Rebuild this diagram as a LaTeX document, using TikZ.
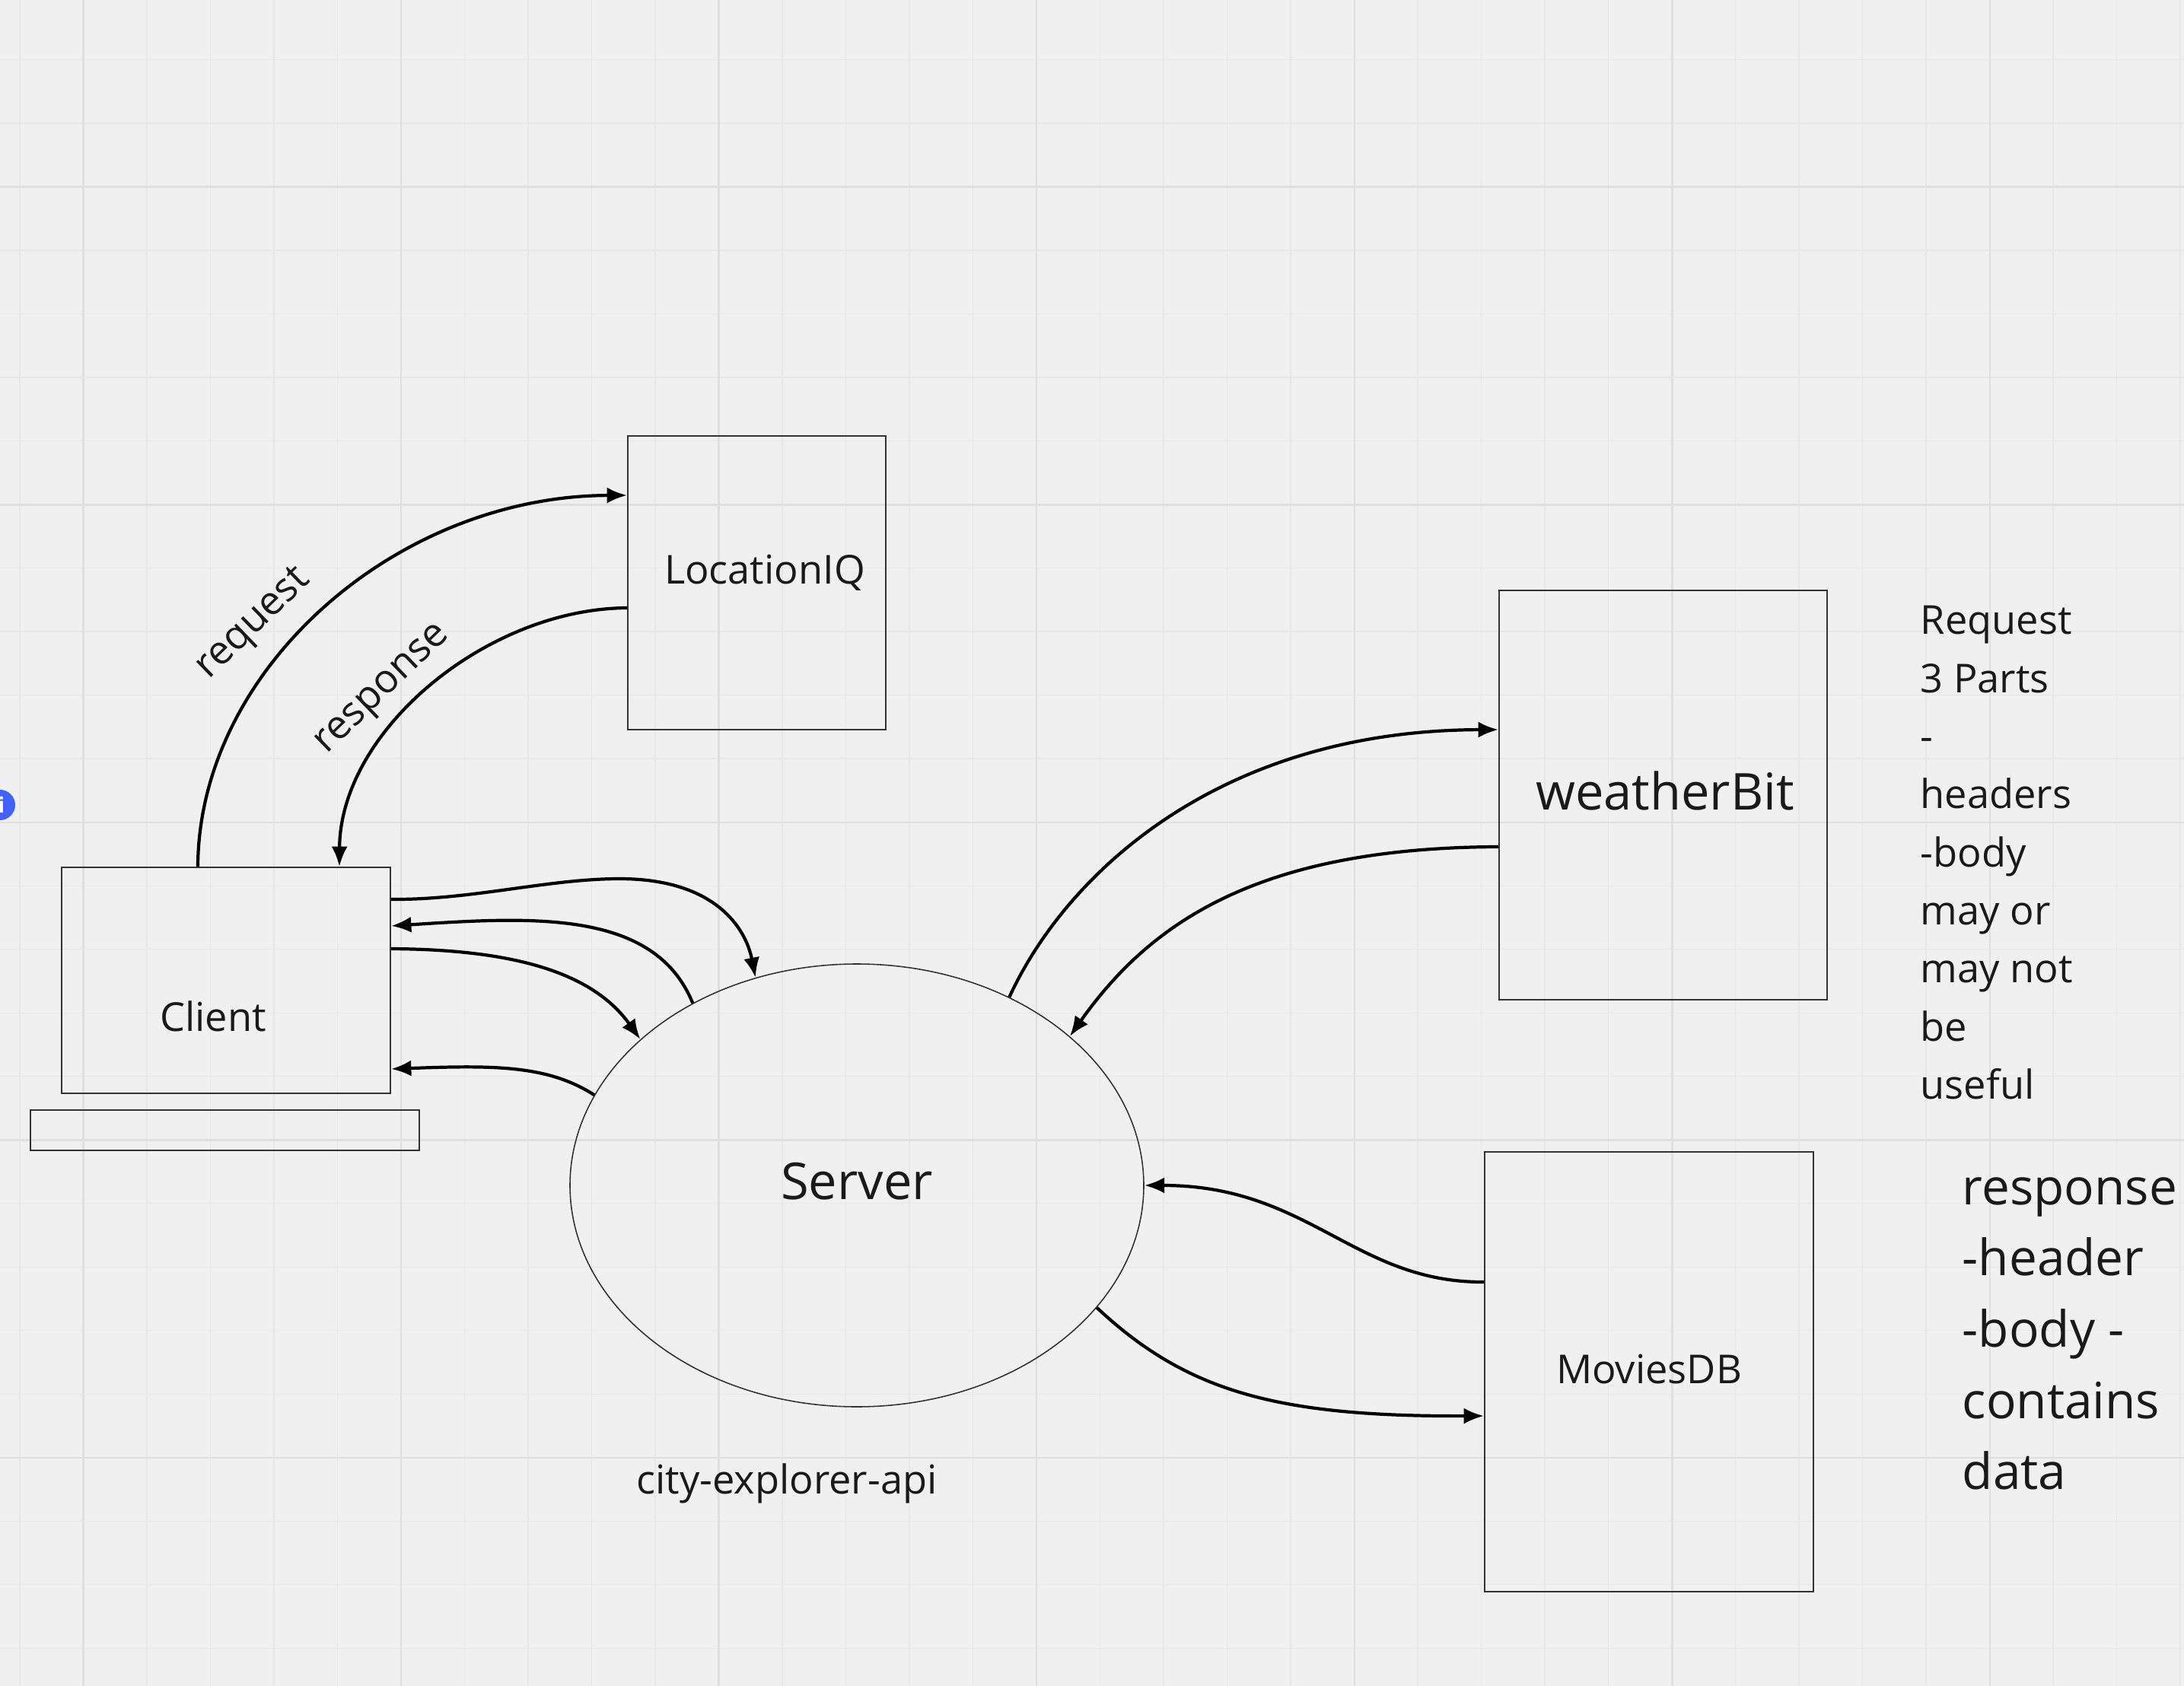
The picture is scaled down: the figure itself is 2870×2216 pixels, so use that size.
\documentclass[tikz,border=0pt]{standalone}
\usepackage{fontspec}
\setmainfont{Open Sans}
\usetikzlibrary{arrows.meta,shapes.geometric,calc}
\definecolor{bgc}{HTML}{F0F0F0}
\definecolor{gridminor}{HTML}{E7E7E7}
\definecolor{gridmajor}{HTML}{DFDFDF}
\definecolor{boxc}{HTML}{333333}
\definecolor{txtc}{HTML}{1A1A1A}
\definecolor{miroblue}{HTML}{4262FF}
\tikzset{
  box/.style={draw=boxc, line width=0.57pt, inner sep=0pt, rectangle},
  lbl/.style={text=txtc, inner sep=0pt, font=\fontsize{14.9pt}{18pt}\selectfont},
  biglbl/.style={text=txtc, inner sep=0pt, font=\fontsize{19pt}{23pt}\selectfont},
  conn/.style={line width=1.2pt, black, -{Latex[length=7.5pt,width=6pt]}},
  gmin/.style={draw=gridminor, line width=0.4pt},
  gmaj/.style={draw=gridmajor, line width=0.7pt},
}
\begin{document}
\begin{tikzpicture}[x=0.1mm,y=-0.1mm]
\fill[bgc] (0,0) rectangle (2870,2216);
\useasboundingbox (0,0) rectangle (2870,2216);
% grid
\foreach \k in {0,...,34} \draw[gmin] ({25.9+83.5*\k},0) -- ({25.9+83.5*\k},2216);
\foreach \k in {0,...,25} \draw[gmin] (0,{78.7+83.5*\k}) -- (2870,{78.7+83.5*\k});
\foreach \m in {0,...,6} \draw[gmaj] ({109.4+417.6*\m},0) -- ({109.4+417.6*\m},2216);
\foreach \m in {0,...,4} \draw[gmaj] (0,{245.7+417.6*\m}) -- (2870,{245.7+417.6*\m});

% info dot
\fill[miroblue] (0,1058) circle (2mm);
\node[text=white, inner sep=0pt, font=\bfseries\fontsize{8pt}{8pt}\selectfont] (info) at (2,1058) {i};

% boxes
\node[box, minimum width=33.9mm, minimum height=38.6mm] (loc) at (994.5,766) {};
\node[box, minimum width=43.1mm, minimum height=53.8mm] (wb) at (2185.5,1045) {};
\node[box, minimum width=43.2mm, minimum height=29.7mm] (client) at (297,1288.5) {};
\node[box, minimum width=51.1mm, minimum height=5.3mm] (base) at (295.5,1485.5) {};
\node[box, minimum width=43.2mm, minimum height=57.8mm] (movies) at (2167,1803) {};
\node[ellipse, draw=boxc, line width=0.45pt, inner sep=0pt, minimum width=75.4mm, minimum height=58.2mm] (server) at (1126,1558) {};

% labels
\node[lbl, anchor=base] (locT) at (1005,768) {LocationIQ};
\node[lbl, anchor=base] (clientT) at (280,1355) {Client};
\node[biglbl, anchor=base] (wbT) at (2188,1064) {weatherBit};
\node[biglbl, anchor=base] (serverT) at (1126,1576) {Server};
\node[lbl, anchor=base] (moviesT) at (2167,1818) {MoviesDB};
\node[lbl, anchor=base] (apiT) at (1034,1963) {city-explorer-api};
\node[lbl, rotate=44] (reqL) at (334,821) {request};
\node[lbl, rotate=44] (resL) at (505,908) {response};

% notes
\foreach \t [count=\i] in {Request,3 Parts,-,headers,-body,may or,may not,be,useful}
  \node[lbl, anchor=base west] (req\i) at (2523,{834+76.3*(\i-1)}) {\t};
\foreach \t [count=\i] in {response,-header,-body -,contains,data}
  \node[text=txtc, inner sep=0pt, font=\fontsize{18.7pt}{22pt}\selectfont, anchor=base west] (res\i) at (2578,{1583+93.7*(\i-1)}) {\t};

% connectors: client <-> LocationIQ
\draw[conn] ($(client.north west)+(180,0)$) .. controls (261,880) and (520,652) .. ($(loc.north west)+(0,79)$);
\draw[conn] ($(loc.north west)+(0,227)$) .. controls (640,800) and (447,960) .. ($(client.north west)+(366,0)$);

% client <-> server
\draw[conn] ($(client.north east)+(0,43)$) .. controls (620,1183) and (720,1155) .. (814,1155) .. controls (940,1155) and (980,1220) .. (server.116.3);
\draw[conn] (server.132) .. controls (860,1195) and (700,1205) .. ($(client.north east)+(0,78)$);
\draw[conn] ($(client.north east)+(0,108)$) .. controls (680,1248) and (780,1280) .. (server.146.2);
\draw[conn] (server.161.9) .. controls (720,1400) and (650,1400) .. ($(client.north east)+(0,266)$);

% server <-> weatherBit
\draw[conn] (server.51.1) .. controls (1400,1150) and (1600,960) .. ($(wb.north west)+(0,184)$);
\draw[conn] ($(wb.north west)+(0,338)$) .. controls (1650,1114) and (1510,1215) .. (server.35.4);

% server <-> MoviesDB
\draw[conn] ($(movies.north west)+(0,172)$) .. controls (1780,1686) and (1720,1558) .. (server.0);
\draw[conn] (server.-27.9) .. controls (1560,1830) and (1680,1862) .. ($(movies.north west)+(0,348)$);
\end{tikzpicture}
\end{document}
